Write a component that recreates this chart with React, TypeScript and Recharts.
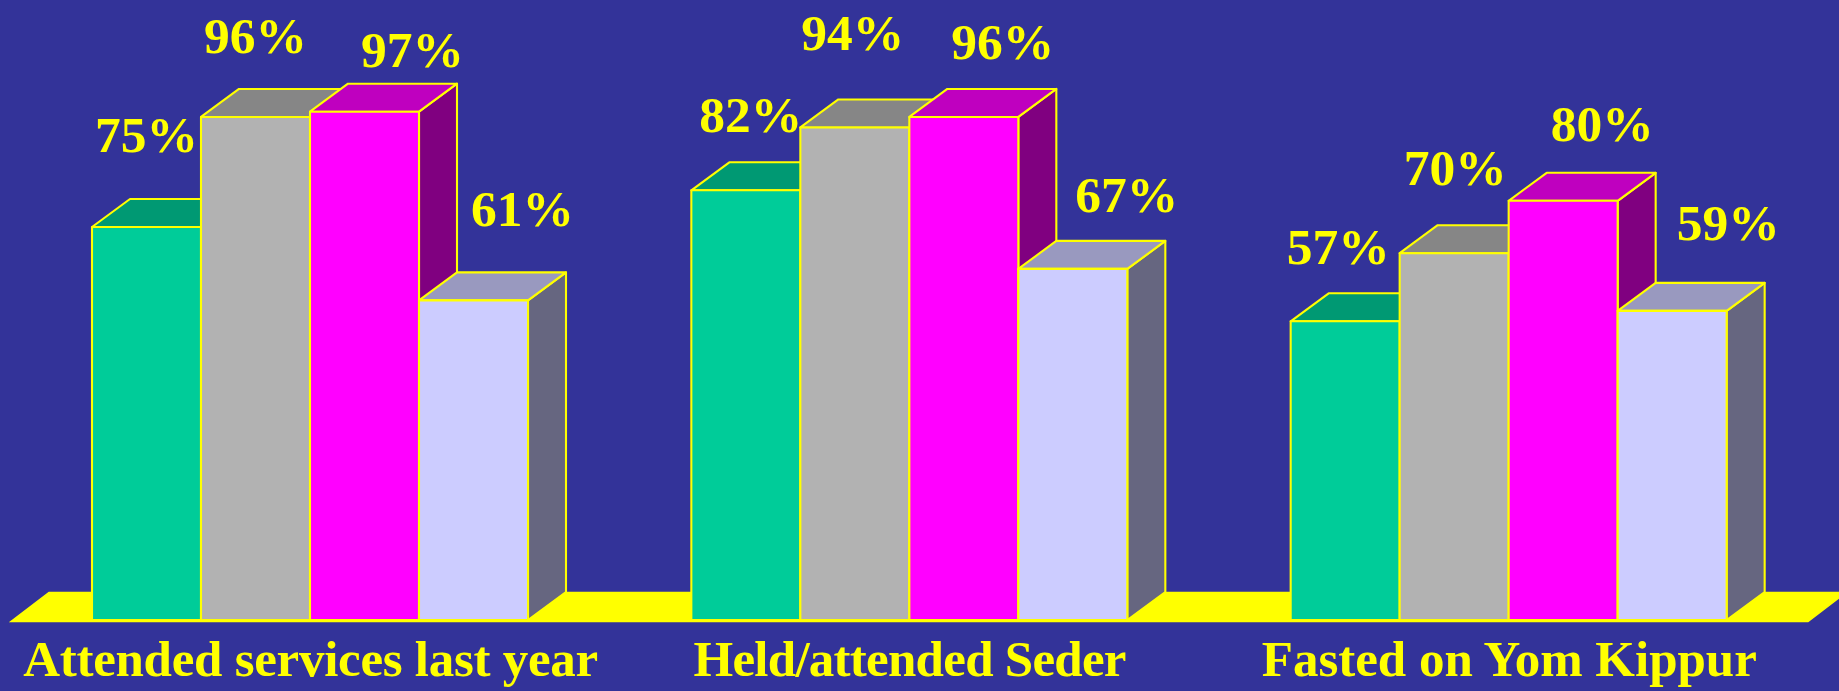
import { BarChart, Bar, XAxis, YAxis, LabelList, ReferenceArea } from 'recharts'

const categories = ['Attended services last year', 'Held/attended Seder', 'Fasted on Yom Kippur']
const greenValues = [75, 82, 57]
const grayValues = [96, 94, 70]
const magentaValues = [97, 96, 80]
const lavenderValues = [61, 67, 59]

const data = categories.map((name, i) => ({
  name,
  green: greenValues[i],
  gray: grayValues[i],
  magenta: magentaValues[i],
  lavender: lavenderValues[i],
}))

const YELLOW = '#FFFF00'
const SERIF = '"Liberation Serif", serif'
const DX = 38
const DY = 28

// label nudges, [x from bar centre, baseline above bar top]
const greenNudge = [[0, 75], [5, 58], [-7, 57]]
const grayNudge = [[0, 64], [-2, 77], [1, 68]]
const magentaNudge = [[48, 45], [39, 58], [39, 60]]
const lavenderNudge = [[49, 74], [54, 57], [56, 71]]
// the original titles are spaced a little differently from one another
const tickWidths = [575, 433, 495]

function box(front: string, top: string, side: string) {
  return (props: any) => {
    const { x, y, width: w, height: h } = props
    return (
      <g stroke={YELLOW} strokeWidth={2.1} strokeLinejoin="round">
        <polygon
          fill={side}
          points={`${x + w},${y} ${x + w + DX},${y - DY} ${x + w + DX},${y + h - DY} ${x + w},${y + h}`}
        />
        <polygon
          fill={top}
          points={`${x},${y} ${x + DX},${y - DY} ${x + w + DX},${y - DY} ${x + w},${y}`}
        />
        <rect x={x} y={y} width={w} height={h} fill={front} />
      </g>
    )
  }
}

function valueLabel(nudge: number[][]) {
  return (props: any) => {
    const { x, y, width, value, index } = props
    return (
      <text
        x={x + width / 2 + nudge[index][0]}
        y={y - nudge[index][1]}
        textAnchor="middle"
        fill={YELLOW}
        fontFamily={SERIF}
        fontWeight="bold"
        fontSize={51.5}
      >
        {value}%
      </text>
    )
  }
}

function CategoryTick(props: any) {
  const { x, y, payload, index } = props
  return (
    <text
      x={x}
      y={y + 48}
      textAnchor="middle"
      textLength={tickWidths[index]}
      fill={YELLOW}
      fontFamily={SERIF}
      fontWeight="bold"
      fontSize={51}
    >
      {payload.value}
    </text>
  )
}

function Ground(props: any) {
  const { x, y, width, height } = props
  const b = y + height
  return (
    <polygon
      fill={YELLOW}
      stroke={YELLOW}
      strokeWidth={1.5}
      points={`${x},${b} ${x + width - 1},${b} ${x + width + DX - 1},${y} ${x + DX},${y}`}
    />
  )
}

export default function App() {
  return (
    <div style={{ position: 'absolute', left: 0, top: 0, width: 1839, height: 691, background: '#333399', overflow: 'hidden' }}>
      <BarChart
        width={1839}
        height={691}
        data={data}
        margin={{ top: 96, right: 30, bottom: 0, left: 11 }}
        barCategoryGap={81}
        barGap={0}
      >
        <XAxis
          dataKey="name"
          height={71}
          interval={0}
          axisLine={false}
          tickLine={false}
          tick={CategoryTick}
        />
        <YAxis hide domain={[0, 100]} />
        <ReferenceArea y1={-0.3} y2={5.25} ifOverflow="visible" shape={Ground} />
        <Bar dataKey="green" isAnimationActive={false} shape={box('#00CC99', '#009973', '#006650')}>
          <LabelList content={valueLabel(greenNudge)} />
        </Bar>
        <Bar dataKey="gray" isAnimationActive={false} shape={box('#B2B2B2', '#868686', '#595959')}>
          <LabelList content={valueLabel(grayNudge)} />
        </Bar>
        <Bar dataKey="magenta" isAnimationActive={false} shape={box('#FF00FF', '#BF00BF', '#800080')}>
          <LabelList content={valueLabel(magentaNudge)} />
        </Bar>
        <Bar dataKey="lavender" isAnimationActive={false} shape={box('#CCCCFF', '#9999BF', '#666680')}>
          <LabelList content={valueLabel(lavenderNudge)} />
        </Bar>
      </BarChart>
    </div>
  )
}
